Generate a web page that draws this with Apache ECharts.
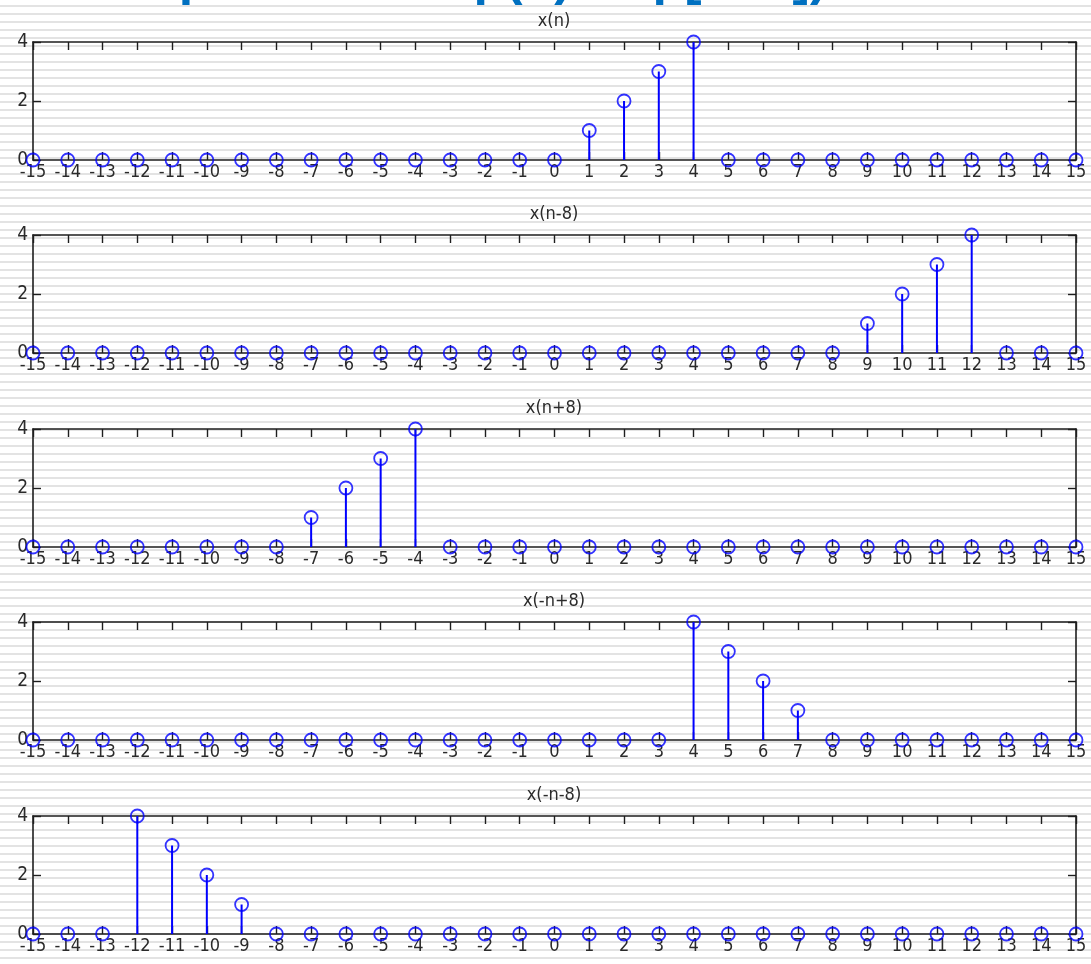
<!DOCTYPE html>
<html>
<head>
<meta charset="utf-8">
<script src="https://cdn.jsdelivr.net/npm/echarts@6/dist/echarts.min.js"></script>
<style>
  html, body { margin: 0; padding: 0; }
  body {
    width: 1091px; height: 964px; overflow: hidden;
    background: repeating-linear-gradient(to bottom, #ffffff 0px, #ffffff 5px, #e3e3e3 5px, #e3e3e3 7px, #ffffff 7px, #ffffff 8px);
  }
  #chart { width: 1091px; height: 964px; }
</style>
</head>
<body>
<div id="chart"></div>
<script>
// ---- data ----
const nValues = [-15,-14,-13,-12,-11,-10,-9,-8,-7,-6,-5,-4,-3,-2,-1,0,1,2,3,4,5,6,7,8,9,10,11,12,13,14,15];
const yTickLabels = [0, 2, 4];
const plotTitles = ['x(n)', 'x(n-8)', 'x(n+8)', 'x(-n+8)', 'x(-n-8)'];
const headline = 'Example of shift: p(n) \u2192 p[n\u2212k])';

const x_n        = [0,0,0,0,0,0,0,0,0,0,0,0,0,0,0,0,1,2,3,4,0,0,0,0,0,0,0,0,0,0,0];
const x_n_minus8 = [0,0,0,0,0,0,0,0,0,0,0,0,0,0,0,0,0,0,0,0,0,0,0,0,1,2,3,4,0,0,0];
const x_n_plus8  = [0,0,0,0,0,0,0,0,1,2,3,4,0,0,0,0,0,0,0,0,0,0,0,0,0,0,0,0,0,0,0];
const x_negn_p8  = [0,0,0,0,0,0,0,0,0,0,0,0,0,0,0,0,0,0,0,4,3,2,1,0,0,0,0,0,0,0,0];
const x_negn_m8  = [0,0,0,4,3,2,1,0,0,0,0,0,0,0,0,0,0,0,0,0,0,0,0,0,0,0,0,0,0,0,0];
const seriesValues = [x_n, x_n_minus8, x_n_plus8, x_negn_p8, x_negn_m8];

// ---- layout ----
const gridTops = [42, 235, 429, 622, 816];
const gridH = 118;
const gridLeft = 33, gridRight = 15;
const labelFont = "'Liberation Sans Narrow','DejaVu Sans Condensed','Liberation Sans',sans-serif";
const axisColor = '#1e1e1e';
const stemColor = '#0000ff';

const grids = [], xAxes = [], yAxes = [], series = [], graphics = [];
gridTops.forEach((top, i) => {
  grids.push({ left: gridLeft, right: gridRight, top: top, height: gridH, containLabel: false });
  const xBase = {
    gridIndex: i, type: 'value', min: nValues[0], max: nValues[nValues.length - 1], interval: 1,
    splitLine: { show: false },
    axisLine: { show: true, onZero: false, lineStyle: { color: axisColor, width: 1.6 } },
    axisTick: { show: true, inside: true, length: 8, lineStyle: { color: axisColor, width: 1.4 } }
  };
  xAxes.push(Object.assign({}, xBase, {
    position: 'bottom',
    axisLabel: { show: true, margin: 3, color: '#2a2a2a', fontSize: 18, fontFamily: labelFont,
      formatter: v => String(v) }
  }));
  xAxes.push(Object.assign({}, xBase, { position: 'top', axisLabel: { show: false } }));
  const yBase = {
    gridIndex: i, type: 'value', min: yTickLabels[0], max: yTickLabels[yTickLabels.length - 1], interval: 2,
    splitLine: { show: false },
    axisLine: { show: true, onZero: false, lineStyle: { color: axisColor, width: 1.6 } },
    axisTick: { show: true, inside: true, length: 8, lineStyle: { color: axisColor, width: 1.4 } }
  };
  yAxes.push(Object.assign({}, yBase, {
    position: 'left',
    axisLabel: { show: true, margin: 5, color: '#2a2a2a', fontSize: 19, fontFamily: labelFont }
  }));
  yAxes.push(Object.assign({}, yBase, { position: 'right', axisLabel: { show: false } }));

  const pts = nValues.map((n, k) => [n, seriesValues[i][k]]);
  series.push({
    type: 'custom', xAxisIndex: 2 * i, yAxisIndex: 2 * i, data: pts, z: 3, silent: true,
    renderItem: (params, api) => {
      const p0 = api.coord([api.value(0), 0]);
      const p1 = api.coord([api.value(0), api.value(1)]);
      return { type: 'line', shape: { x1: p0[0], y1: p0[1], x2: p1[0], y2: p1[1] },
               style: { stroke: stemColor, lineWidth: 2 } };
    }
  });
  series.push({
    type: 'scatter', xAxisIndex: 2 * i, yAxisIndex: 2 * i, data: pts, clip: false, z: 4, silent: true,
    symbol: 'circle', symbolSize: 13,
    itemStyle: { color: 'rgba(0,0,0,0)', borderColor: stemColor, borderWidth: 1.8 }
  });

  graphics.push({
    type: 'text', x: 554, y: top - 21,
    style: { text: plotTitles[i], fill: '#2a2a2a', font: "18px " + labelFont, align: 'center', verticalAlign: 'middle' }
  });
});

graphics.push({
  type: 'text', x: 40, y: 6,
  style: { text: headline, fill: '#0070c0', font: "bold 52px 'Liberation Sans', sans-serif", align: 'left', verticalAlign: 'bottom' }
});

const chart = echarts.init(document.getElementById('chart'), null, { renderer: 'canvas' });
chart.setOption({
  backgroundColor: 'transparent',
  animation: false,
  grid: grids,
  xAxis: xAxes,
  yAxis: yAxes,
  series: series,
  graphic: graphics
});
</script>
</body>
</html>
